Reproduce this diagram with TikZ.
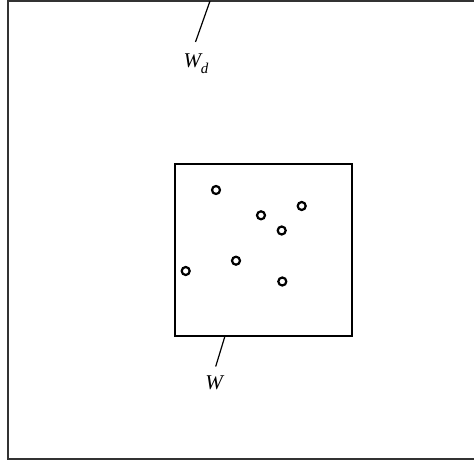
\documentclass[tikz,border=0pt]{standalone}
\usepackage{fontspec}
\setmainfont{Liberation Serif}
\begin{document}
\begin{tikzpicture}[x=1pt,y=-1pt,
  dot/.style={circle,draw,line width=2.2pt,minimum size=8pt,inner sep=0pt},
  lab/.style={inner sep=0pt,font=\fontsize{21}{25}\selectfont\itshape},
  box/.style={draw,line width=1.2pt},
  outer/.style={draw=black!80,line width=2pt},
  leader/.style={line width=1.2pt}]
\useasboundingbox (0,0) rectangle (474,460);
\clip (0,0) rectangle (474,460);
\fill[white] (0,0) rectangle (474,460);
% outer window (extends beyond right edge)
\draw[outer] (7.5,1) rectangle (490,458.5);
% inner window
\node[box,minimum width=177pt,minimum height=172pt,inner sep=0pt] (win) at (263.5,250) {};
% points
\node[dot] (p1) at (216,190) {};
\node[dot] (p2) at (261,215.3) {};
\node[dot] (p3) at (301.7,206) {};
\node[dot] (p4) at (281.7,230.5) {};
\node[dot] (p5) at (236,260.7) {};
\node[dot] (p6) at (185.7,271) {};
\node[dot] (p7) at (282.3,281.5) {};
% labels
\node[lab] (wd) at (196,64) {W\raisebox{-0.28em}{\fontsize{15}{17}\selectfont d}};
\node[lab] (w) at (214,382.5) {W};
\coordinate (wdtop) at (210,1);
\coordinate (wdend) at (195.5,42);
\coordinate (wtop) at (225,336);
\coordinate (wend) at (215.7,366.5);
\draw[leader] (wdtop) -- (wdend);
\draw[leader] (wtop) -- (wend);
\end{tikzpicture}
\end{document}
